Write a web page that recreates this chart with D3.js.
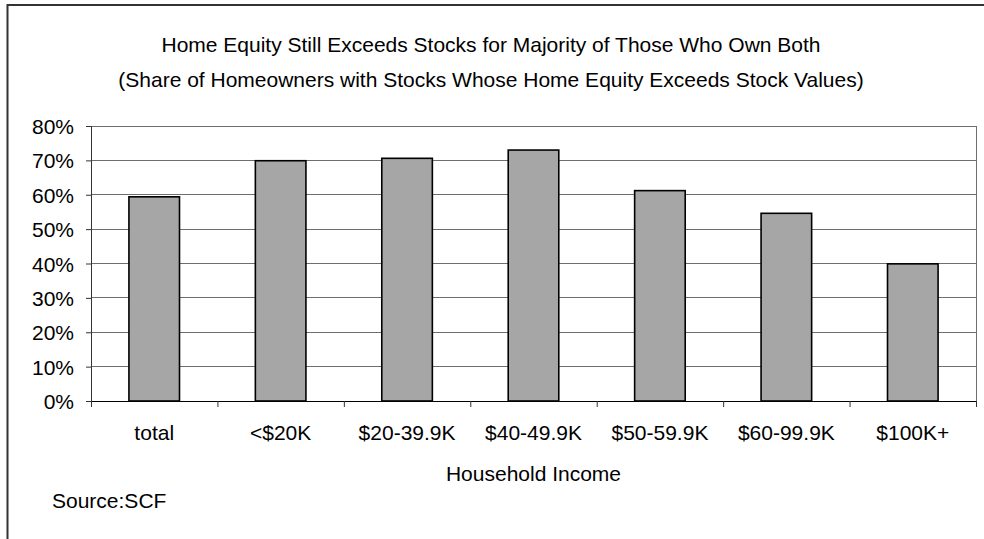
<!DOCTYPE html>
<html>
<head>
<meta charset="utf-8">
<script src="https://cdn.jsdelivr.net/npm/d3@7"></script>
<style>
  html, body { margin: 0; padding: 0; background: #fff; }
  svg { display: block; }
  text { font-family: "Liberation Sans", Arial, sans-serif; fill: #000; }
</style>
</head>
<body>
<svg id="chart" width="984" height="539"></svg>
<script>
// Income groups and the share of stock-owning homeowners whose home equity exceeds stock values
const categories = ["total", "<$20K", "$20-39.9K", "$40-49.9K", "$50-59.9K", "$60-99.9K", "$100K+"];
const shares = [59.4, 69.9, 70.6, 73.0, 61.2, 54.6, 39.9];
const yTicks = [0, 10, 20, 30, 40, 50, 60, 70, 80];
const titleLines = [
  "Home Equity Still Exceeds Stocks for Majority of Those Who Own Both",
  "(Share of Homeowners with Stocks Whose Home Equity Exceeds Stock Values)"
];
const xTitle = "Household Income";
const sourceNote = "Source:SCF";

const W = 984, H = 539;
const plot = { left: 91, right: 976, top: 126, bottom: 401 };
const fontSize = 21;

const svg = d3.select("#chart");

// outer chart frame
svg.append("rect")
  .attr("x", 7.5).attr("y", 5)
  .attr("width", W + 10).attr("height", H + 10)
  .attr("fill", "#fff")
  .attr("stroke", "#333").attr("stroke-width", 2);

const x = d3.scaleBand()
  .domain(categories)
  .range([plot.left, plot.right])
  .paddingInner(0.6)
  .paddingOuter(0.3);

const xEdge = d3.scaleLinear()
  .domain([0, categories.length])
  .range([plot.left, plot.right]);

const y = d3.scaleLinear()
  .domain([0, 80])
  .range([plot.bottom, plot.top]);

// horizontal gridlines
svg.append("g")
  .selectAll("line")
  .data(yTicks.filter(d => d > 0))
  .join("line")
  .attr("x1", plot.left).attr("x2", plot.right)
  .attr("y1", d => y(d)).attr("y2", d => y(d))
  .attr("stroke", "#6e6e6e").attr("stroke-width", 1)
  .attr("shape-rendering", "crispEdges");

// right border of the plot area
svg.append("line")
  .attr("x1", plot.right).attr("x2", plot.right)
  .attr("y1", plot.top).attr("y2", plot.bottom)
  .attr("stroke", "#6e6e6e").attr("stroke-width", 1)
  .attr("shape-rendering", "crispEdges");

// bars
svg.append("g")
  .selectAll("rect")
  .data(categories.map((c, i) => ({ c, v: shares[i] })))
  .join("rect")
  .attr("x", d => x(d.c))
  .attr("width", x.bandwidth())
  .attr("y", d => y(d.v))
  .attr("height", d => y(0) - y(d.v))
  .attr("fill", "#a6a6a6")
  .attr("stroke", "#000")
  .attr("stroke-width", 1.6);

// y axis
const yAxis = svg.append("g")
  .attr("transform", `translate(${plot.left},0)`)
  .call(d3.axisLeft(y).tickValues(yTicks).tickFormat(d => d + "%").tickSize(5).tickPadding(12));
yAxis.select(".domain").attr("stroke", "#333");
yAxis.selectAll(".tick line").attr("stroke", "#333");
yAxis.selectAll("text")
  .attr("font-size", fontSize)
  .attr("font-family", "Liberation Sans, Arial, sans-serif")
  .attr("dy", "0.36em");

// x axis: tick marks at category boundaries
const xTicksAxis = svg.append("g")
  .attr("transform", `translate(0,${plot.bottom})`)
  .call(d3.axisBottom(xEdge).tickValues(d3.range(categories.length + 1)).tickFormat("").tickSize(6));
xTicksAxis.select(".domain").attr("stroke", "#000");
xTicksAxis.selectAll(".tick line").attr("stroke", "#333");

// x axis: category labels
const xLabels = svg.append("g")
  .attr("transform", `translate(0,${plot.bottom})`)
  .call(d3.axisBottom(x).tickSize(0).tickPadding(0));
xLabels.select(".domain").remove();
xLabels.selectAll("text")
  .attr("font-size", fontSize)
  .attr("font-family", "Liberation Sans, Arial, sans-serif")
  .attr("y", 39)
  .attr("dy", 0);

// title, centred on the chart area
svg.append("g")
  .selectAll("text")
  .data(titleLines)
  .join("text")
  .attr("x", 491)
  .attr("y", (d, i) => 52 + i * 35)
  .attr("text-anchor", "middle")
  .attr("font-size", fontSize)
  .text(d => d);

// axis title, centred under the plot
svg.append("text")
  .attr("x", (plot.left + plot.right) / 2)
  .attr("y", 481)
  .attr("text-anchor", "middle")
  .attr("font-size", fontSize)
  .text(xTitle);

// source note
svg.append("text")
  .attr("x", 52)
  .attr("y", 508)
  .attr("font-size", fontSize)
  .text(sourceNote);
</script>
</body>
</html>
